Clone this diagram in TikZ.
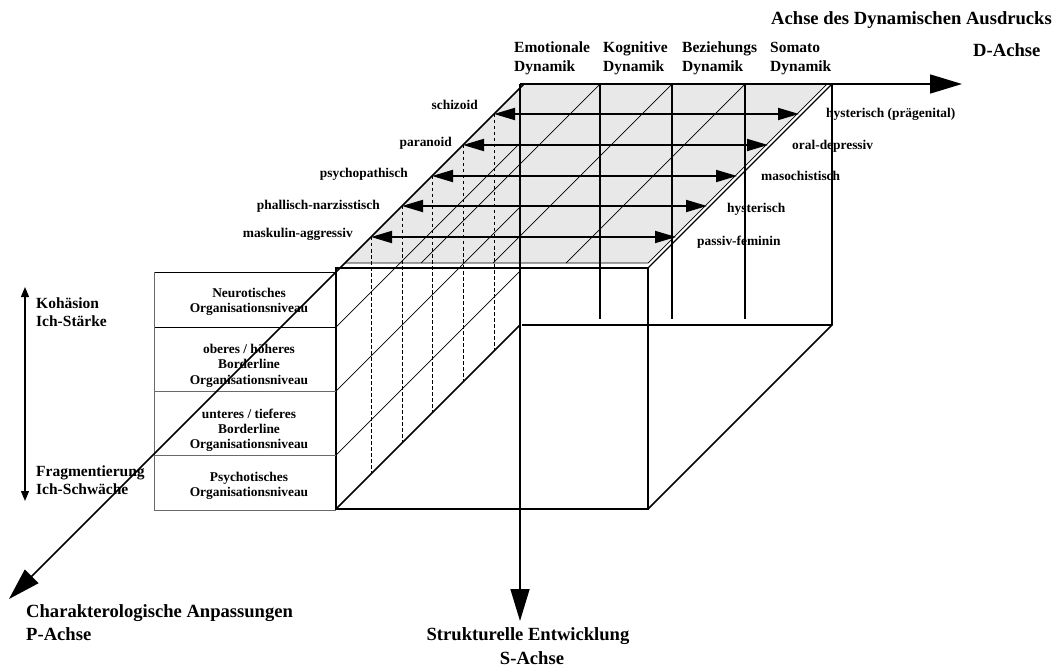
\documentclass[tikz,border=0pt]{standalone}
\usepackage{fontspec}
\setmainfont{Liberation Serif}
\usetikzlibrary{arrows.meta}
\definecolor{slabgray}{RGB}{232,232,232}
\definecolor{rulegray}{RGB}{105,105,105}
\begin{document}
\begin{tikzpicture}[x=1pt,y=-1pt,
  heavy/.style={line width=1.6pt},
  medium/.style={line width=1.1pt},
  fine/.style={line width=0.7pt},
  hidden/.style={line width=0.6pt, dash pattern=on 3.5pt off 2.5pt},
  axis/.style={line width=1.6pt, -{Triangle[length=32pt,width=19pt]}},
  typearrow/.style={line width=1.8pt,
    {Triangle[length=21pt,width=12pt]}-{Triangle[length=21pt,width=12pt]}},
  scalearrow/.style={line width=1.2pt,
    {Triangle[length=10pt,width=8pt]}-{Triangle[length=10pt,width=8pt]}},
  lab/.style={inner sep=0pt, font=\fontsize{13.4pt}{16pt}\selectfont\bfseries},
  head/.style={inner sep=0pt, font=\fontsize{15.5pt}{18pt}\selectfont\bfseries},
  big/.style={inner sep=0pt, font=\fontsize{18.6pt}{22pt}\selectfont\bfseries},
]
\useasboundingbox (0,0) rectangle (1059,668);

% ---- corner points of the block ----
\coordinate (B)  at (520,84);   % origin of S- and D-axis
\coordinate (Bp) at (524,84);   % origin of P-axis
\coordinate (C)  at (832,84);
\coordinate (Bb) at (520,325);
\coordinate (Cb) at (832,325);
\coordinate (F)  at (336,268);
\coordinate (G)  at (648,268);
\coordinate (Fb) at (336,509);
\coordinate (Gb) at (648,509);
\coordinate (Dtip) at (962,84);
\coordinate (Stip) at (520,621);
\coordinate (Ptip) at (9,599);

% ---- grey top face ----
\coordinate (T1) at (827,84);
\coordinate (T2) at (648,263);
\coordinate (T3) at (345,263);
\fill[slabgray] (Bp) -- (T1) -- (T2) -- (T3) -- cycle;
\draw[fine] (T3) -- (T2) -- (T1);
\draw[medium] (C) -- (G);

% diagonals of the top face
\foreach \x in {600,672,745}
  \draw[fine] (\x,84) -- ({\x-179},263);

% column lines of the D-axis
\foreach \x in {600,672,745}
  \draw[medium] (\x,84) -- (\x,319);

% level lines on the left face
\foreach \y in {327,391,455}
  \draw[fine] (520,{\y-184}) -- (336,\y);

% ---- block edges ----
\draw[heavy] (F) -- (G) -- (Gb) -- (Fb) -- cycle;
\draw[heavy] (C) -- (Cb) -- (Gb);
\draw[heavy] (522,325) -- (Cb);
\draw[heavy] (Bb) -- (Fb);

% ---- table of organisation levels ----
\draw[line width=0.9pt] (154,272) -- (336,272);
\draw[line width=0.9pt] (154,327) -- (336,327);
\draw[line width=0.9pt, rulegray] (154,272) -- (154,510) -- (336,510);
\draw[line width=0.9pt, rulegray] (154,391) -- (336,391);
\draw[line width=0.9pt, rulegray] (154,455) -- (336,455);

% ---- axes ----
\draw[axis] (B) -- (Dtip);
\draw[axis] (B) -- (Stip);
\draw[axis] (Bp) -- (Ptip);

% ---- character types: arrows and drop lines ----
\foreach \i/\y in {1/114,2/145,3/176,4/206,5/237} {
  \coordinate (L\i) at ({608-\y},\y);
  \coordinate (R\i) at ({913-\y},\y);
  \coordinate (H\i) at ({608-\y},{237+\y});
  \draw[hidden] (L\i) -- (H\i);
  \draw[typearrow] (L\i) -- (R\i);
}

% cohesion scale
\coordinate (K1) at (25,287);
\coordinate (K2) at (25,501);
\draw[scalearrow] (K1) -- (K2);

% ---- labels of the top face ----
\node[lab, anchor=base east] (tl1) at (478,109.5) {schizoid};
\node[lab, anchor=base east] (tl2) at (452,146.5) {paranoid};
\node[lab, anchor=base east] (tl3) at (408,178) {psychopathisch};
\node[lab, anchor=base east] (tl4) at (380,210) {phallisch-narzisstisch};
\node[lab, anchor=base east] (tl5) at (353,237) {maskulin-aggressiv};

\node[lab, anchor=base west] (tr1) at (826,118) {hysterisch (prägenital)};
\node[lab, anchor=base west] (tr2) at (792,150) {oral-depressiv};
\node[lab, anchor=base west] (tr3) at (761,181) {masochistisch};
\node[lab, anchor=base west] (tr4) at (727,213) {hysterisch};
\node[lab, anchor=base west] (tr5) at (697,245) {passiv-feminin};

% ---- column headers ----
\node[head, anchor=base west] (c1a) at (514,53) {Emotionale};
\node[head, anchor=base west] (c1b) at (514,72) {Dynamik};
\node[head, anchor=base west] (c2a) at (603,53) {Kognitive};
\node[head, anchor=base west] (c2b) at (603,72) {Dynamik};
\node[head, anchor=base west] (c3a) at (682,53) {Beziehungs};
\node[head, anchor=base west] (c3b) at (682,72) {Dynamik};
\node[head, anchor=base west] (c4a) at (770,53) {Somato};
\node[head, anchor=base west] (c4b) at (770,72) {Dynamik};

% ---- table texts ----
\node[lab, anchor=base] (n1a) at (249,297) {Neurotisches};
\node[lab, anchor=base] (n1b) at (249,312) {Organisationsniveau};
\node[lab, anchor=base] (n2a) at (249,353.5) {oberes / höheres};
\node[lab, anchor=base] (n2b) at (249,368.5) {Borderline};
\node[lab, anchor=base] (n2c) at (249,384) {Organisationsniveau};
\node[lab, anchor=base] (n3a) at (249,418) {unteres / tieferes};
\node[lab, anchor=base] (n3b) at (249,433) {Borderline};
\node[lab, anchor=base] (n3c) at (249,448) {Organisationsniveau};
\node[lab, anchor=base] (n4a) at (249,481) {Psychotisches};
\node[lab, anchor=base] (n4b) at (249,496) {Organisationsniveau};

% ---- scale labels ----
\node[head, anchor=base west] (k1) at (36,308) {Kohäsion};
\node[head, anchor=base west] (k2) at (36,326) {Ich-Stärke};
\node[head, anchor=base west] (k3) at (36,476) {Fragmentierung};
\node[head, anchor=base west] (k4) at (36,494) {Ich-Schwäche};

% ---- axis titles ----
\node[big, anchor=base east] (d1) at (1052,25) {Achse des Dynamischen Ausdrucks};
\node[big, anchor=base west] (d2) at (973,57) {D-Achse};
\node[big, anchor=base west] (p1) at (26,617) {Charakterologische Anpassungen};
\node[big, anchor=base west] (p2) at (26,640) {P-Achse};
\node[big, anchor=base] (s1) at (528,640) {Strukturelle Entwicklung};
\node[big, anchor=base] (s2) at (532,664) {S-Achse};
\end{tikzpicture}
\end{document}
